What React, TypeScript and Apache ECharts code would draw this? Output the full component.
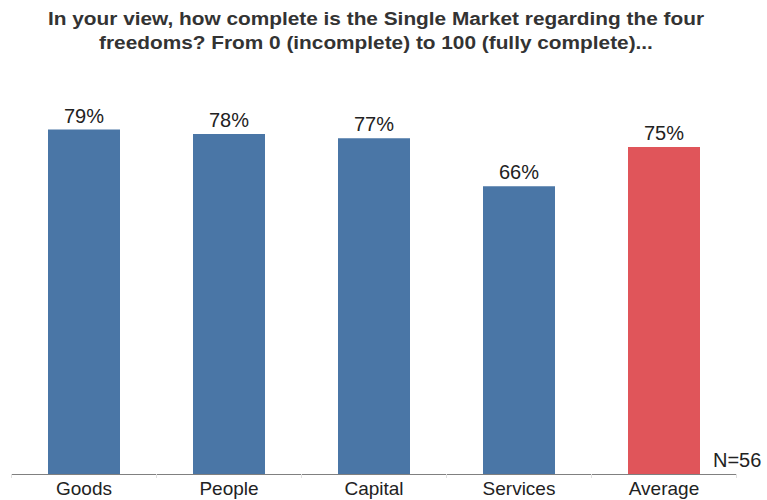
import React, { useEffect, useRef } from "react";
import * as echarts from "echarts";

const categories = ["Goods", "People", "Capital", "Services", "Average"];
const values = [79, 78, 77, 66, 75];
const colors = ["#4a76a6", "#4a76a6", "#4a76a6", "#4a76a6", "#e0555a"];
const titleLines = [
  "In your view, how complete is the Single Market regarding the four",
  "freedoms? From 0 (incomplete) to 100 (fully complete)...",
];
const noteText = "N=56";

const FONT = "Liberation Sans, Arial, sans-serif";

export default function App() {
  const ref = useRef<HTMLDivElement>(null);
  useEffect(() => {
    const chart = echarts.init(ref.current!, null, { renderer: "svg" });
    chart.setOption({
      animation: false,
      textStyle: { fontFamily: FONT },
      graphic: [
        ...titleLines.map((t, i) => ({
          type: "text",
          x: 376,
          y: 19 + i * 24,
          scaleX: 1.19,
          style: {
            text: t,
            fontSize: 17.5,
            fontWeight: "bold",
            fill: "#333333",
            fontFamily: FONT,
            align: "center",
            verticalAlign: "middle",
          },
        })),
        {
          type: "text",
          x: 713,
          y: 460,
          style: {
            text: noteText,
            fontSize: 20,
            fill: "#222222",
            fontFamily: FONT,
            align: "left",
            verticalAlign: "middle",
          },
        },
      ],
      grid: { left: 11.5, right: 30.5, top: 38, bottom: 26, containLabel: false },
      xAxis: {
        type: "category",
        data: categories,
        axisLine: { lineStyle: { color: "#808080", width: 1 } },
        axisTick: { show: true, length: 4, lineStyle: { color: "#e0e0e0" } },
        axisLabel: {
          color: "#222222",
          fontSize: 19,
          margin: 5,
          fontFamily: FONT,
        },
      },
      yAxis: {
        type: "value",
        min: 0,
        max: 100,
        show: false,
        splitLine: { show: false },
      },
      series: [
        {
          type: "bar",
          barWidth: 72,
          data: values.map((v, i) => ({ value: v, itemStyle: { color: colors[i] } })),
          label: {
            show: true,
            position: "top",
            distance: 4,
            formatter: (p: any) => p.value + "%",
            color: "#222222",
            fontSize: 20,
            fontFamily: FONT,
          },
        },
      ],
    });
    return () => chart.dispose();
  }, []);
  return <div ref={ref} style={{ width: 767, height: 500, position: "absolute", left: 0, top: 0 }} />;
}
